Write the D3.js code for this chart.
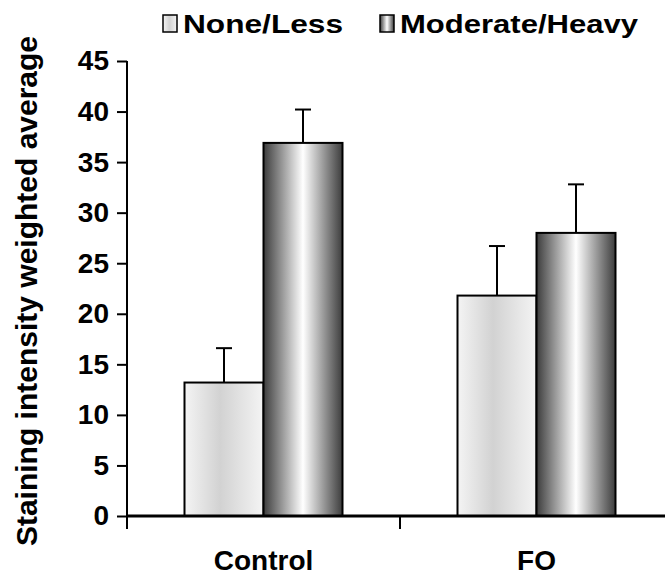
<!DOCTYPE html>
<html>
<head>
<meta charset="utf-8">
<script src="https://cdn.jsdelivr.net/npm/d3@7"></script>
<style>
body { margin: 0; background: #fff; }
text { font-family: "Liberation Sans", Arial, sans-serif; font-weight: bold; fill: #000; }
</style>
</head>
<body>
<script>
var width = 665, height = 575;
var categories = ["Control", "FO"];
var series = ["None/Less", "Moderate/Heavy"];
var means = [[13.2, 36.9], [21.8, 28.0]];
var errors = [[3.4, 3.3], [4.9, 4.8]];
var yTicks = [0, 5, 10, 15, 20, 25, 30, 35, 40, 45];

var plotLeft = 127, plotRight = 673, plotTop = 61, plotBottom = 516;

var svg = d3.select("body").append("svg")
    .attr("width", width)
    .attr("height", height);

var defs = svg.append("defs");
var light = defs.append("linearGradient").attr("id", "gLight");
[[0, "#f4f4f4"], [0.45, "#d2d2d2"], [1, "#f4f4f4"]].forEach(function(s) {
    light.append("stop").attr("offset", s[0]).attr("stop-color", s[1]);
});
var dark = defs.append("linearGradient").attr("id", "gDark");
[[0, "#3c3c3c"], [0.5, "#ffffff"], [1, "#3c3c3c"]].forEach(function(s) {
    dark.append("stop").attr("offset", s[0]).attr("stop-color", s[1]);
});
var fills = ["url(#gLight)", "url(#gDark)"];

var y = d3.scaleLinear().domain([0, 45]).range([plotBottom, plotTop]);
var x0 = d3.scaleBand().domain(categories).range([plotLeft, plotRight]);
var bw = x0.bandwidth();
var x1 = d3.scaleBand().domain(series).range([(bw - 158) / 2, (bw + 158) / 2]);

// bars + error bars
categories.forEach(function(cat, i) {
    series.forEach(function(s, j) {
        var bx = x0(cat) + x1(s);
        var v = means[i][j];
        var e = errors[i][j];
        var cx = bx + x1.bandwidth() / 2;
        svg.append("line")
            .attr("x1", cx).attr("x2", cx)
            .attr("y1", y(v)).attr("y2", y(v + e))
            .attr("stroke", "#000").attr("stroke-width", 2);
        svg.append("line")
            .attr("x1", cx - 8).attr("x2", cx + 8)
            .attr("y1", y(v + e)).attr("y2", y(v + e))
            .attr("stroke", "#000").attr("stroke-width", 2);
        svg.append("rect")
            .attr("x", bx).attr("y", y(v))
            .attr("width", x1.bandwidth()).attr("height", y(0) - y(v))
            .attr("fill", fills[j])
            .attr("stroke", "#000").attr("stroke-width", 2);
    });
});

// y axis
var yAxis = svg.append("g")
    .attr("transform", "translate(" + plotLeft + ",0)")
    .call(d3.axisLeft(y).tickValues(yTicks).tickSize(10).tickPadding(8));
yAxis.select(".domain").attr("stroke-width", 2).attr("d", "M0," + plotTop + "V" + plotBottom);
yAxis.selectAll(".tick line").attr("stroke-width", 2);
yAxis.selectAll("text").style("font-size", "28px").attr("fill", "#000");

// x axis
var xAxis = svg.append("g")
    .attr("transform", "translate(0," + plotBottom + ")");
xAxis.append("line")
    .attr("x1", plotLeft).attr("x2", plotRight)
    .attr("y1", 0).attr("y2", 0)
    .attr("stroke", "#000").attr("stroke-width", 3);
[plotLeft, x0("FO")].forEach(function(t) {
    xAxis.append("line")
        .attr("x1", t).attr("x2", t).attr("y1", 0).attr("y2", 13)
        .attr("stroke", "#000").attr("stroke-width", 2);
});
categories.forEach(function(cat) {
    xAxis.append("text")
        .attr("x", x0(cat) + bw / 2)
        .attr("y", 54)
        .attr("text-anchor", "middle")
        .style("font-size", "28px")
        .text(cat);
});

// y label
svg.append("text")
    .attr("transform", "translate(37,291) rotate(-90)")
    .attr("text-anchor", "middle")
    .style("font-size", "30px")
    .text("Staining intensity weighted average");

// legend
var legendX = [163, 380];
var legendW = [160, 238];
series.forEach(function(s, j) {
    var g = svg.append("g").attr("transform", "translate(" + legendX[j] + ",15)");
    g.append("rect").attr("x", 0).attr("y", 0).attr("width", 14).attr("height", 17)
        .attr("fill", fills[j]).attr("stroke", "#000").attr("stroke-width", 1.5);
    g.append("text").attr("x", 20).attr("y", 18)
        .attr("textLength", legendW[j])
        .attr("lengthAdjust", "spacingAndGlyphs")
        .style("font-size", "26px")
        .text(s);
});
</script>
</body>
</html>
